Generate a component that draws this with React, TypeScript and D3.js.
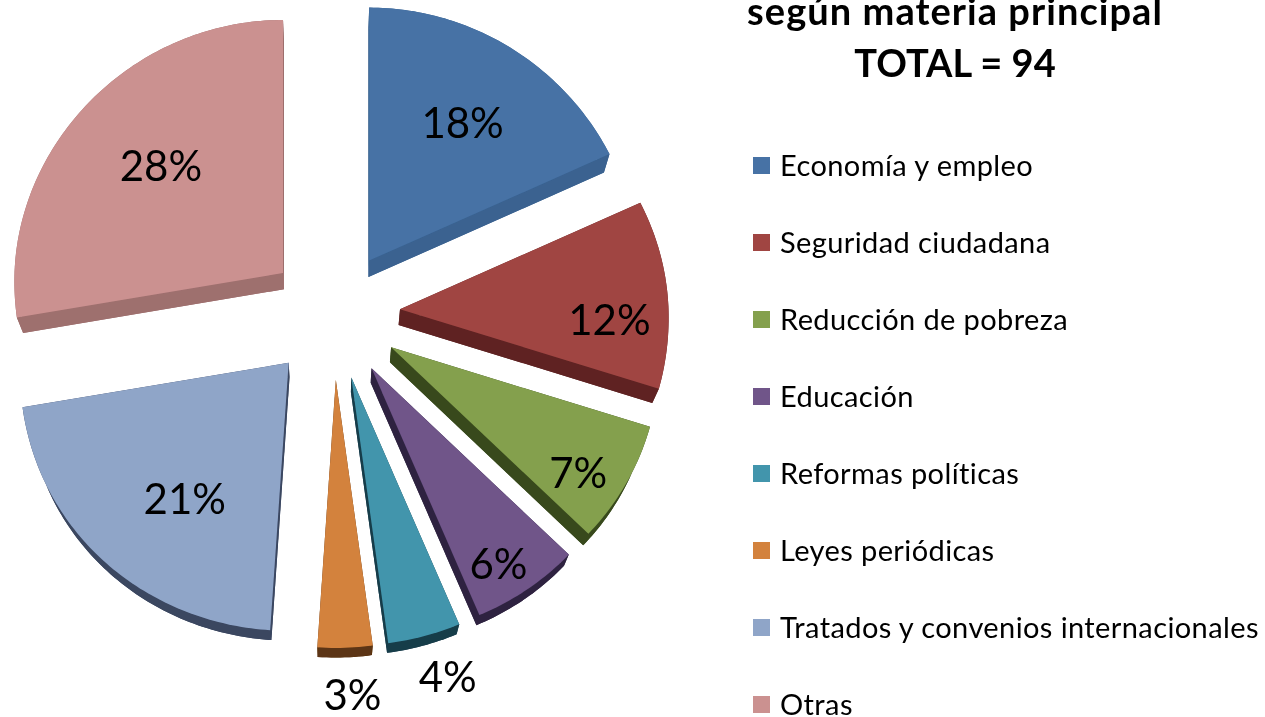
import React, { useEffect, useRef } from 'react';
import * as d3 from 'd3';

// counts per subject, total 94
const categories = [
  'Economía y empleo',
  'Seguridad ciudadana',
  'Reducción de pobreza',
  'Educación',
  'Reformas políticas',
  'Leyes periódicas',
  'Tratados y convenios internacionales',
  'Otras',
];
const counts = [17, 11, 7, 6, 4, 3, 20, 26];
const percentLabels = ['18%', '12%', '7%', '6%', '4%', '3%', '21%', '28%'];
const titleLines = ['según materia principal', 'TOTAL = 94'];

const faceColors = ['#4672a5', '#a04543', '#84a04e', '#6f5489', '#4295ac', '#d3823e', '#8fa5c8', '#cb9190'];
const wallColors = ['#3a6290', '#5f2423', '#384a1c', '#2f2440', '#183c4a', '#5c3412', '#3a4660', '#9e6f6e'];

// where each % label sits, measured from the tip of its slice
const labelRadius = [0.648, 0.78, 0.832, 0.865, 1.172, 1.18, 0.637, 0.625];
const labelAngle = [33.1, 93, 124.4, 147.7, 162.8, 177.1, 216.7, 312.5];
const titleSpacing = [1.05, 0];

const center = { x: 333.6, y: 313.5 };
const explode = 0.248;
const font = 'Lato, sans-serif';

export default function App() {
  const ref = useRef<SVGSVGElement>(null);

  useEffect(() => {
    const svg = d3.select(ref.current);
    svg.selectAll('*').remove();

    // the pie is tilted, so the far half is smaller than the near half
    const widthAt = d3.scaleLinear().domain([-1, 1]).range([260, 277]);
    const yScale = d3.scaleLinear().domain([-1, 0, 1]).range([-253, 0, 268]);

    const polar = (angle: number, r: number): [number, number] => {
      const ux = r * Math.sin(angle);
      const uy = -r * Math.cos(angle);
      return [ux * widthAt(uy), yScale(uy)];
    };
    // lower rim of the disc
    const sink = (p: [number, number]): [number, number] => [
      330 + (p[0] - 330) * 0.98,
      p[1] * 0.982 + 21.2,
    ];

    const line = d3.line();
    const slices = d3.pie<number>().sort(null).value((d) => d)(counts);

    const defs = svg.append('defs');
    defs.append('filter').attr('id', 'soft')
      .append('feGaussianBlur').attr('stdDeviation', 0.6);

    const root = svg.append('g').attr('filter', 'url(#soft)');

    slices.forEach((s, i) => {
      const mid = (s.startAngle + s.endAngle) / 2;
      const off = polar(mid, explode);
      const tip: [number, number] = [center.x + off[0], center.y + off[1]];

      const steps = Math.ceil(((s.endAngle - s.startAngle) * 180) / Math.PI);
      const rim = d3.range(steps + 1).map((k) => {
        const a = s.startAngle + ((s.endAngle - s.startAngle) * k) / steps;
        const p = polar(a, 1);
        return [tip[0] + p[0], tip[1] + p[1]] as [number, number];
      });
      const outline = [tip, ...rim];
      const last = rim[rim.length - 1];

      // separate paths, opposite windings would punch holes in one path
      const walls = [
        outline.map(sink),
        [...rim, ...rim.map(sink).reverse()],
        [tip, rim[0], sink(rim[0]), sink(tip)],
        [tip, last, sink(last), sink(tip)],
      ];
      walls.forEach((w) => {
        root.append('path').attr('d', line(w) + 'Z').attr('fill', wallColors[i]);
      });
      root.append('path').attr('d', line(outline) + 'Z').attr('fill', faceColors[i]);

      const lp = polar((labelAngle[i] * Math.PI) / 180, labelRadius[i]);
      root.append('text')
        .attr('x', tip[0] + lp[0])
        .attr('y', tip[1] + lp[1])
        .attr('dy', '0.35em')
        .attr('text-anchor', 'middle')
        .attr('font-family', font)
        .attr('font-size', 42)
        .attr('fill', '#000')
        .text(percentLabels[i]);
    });

    // title, first line is cut by the top of the picture
    root.selectAll('text.title')
      .data(titleLines)
      .enter()
      .append('text')
      .attr('class', 'title')
      .attr('x', 955)
      .attr('y', (d, i) => 25 + i * 52)
      .attr('text-anchor', 'middle')
      .attr('font-family', font)
      .attr('font-weight', 700)
      .attr('font-size', 38)
      .attr('letter-spacing', (d, i) => titleSpacing[i])
      .attr('fill', '#000')
      .text((d) => d);

    const legendY = d3.scalePoint<string>().domain(categories).range([165, 704]);
    const rows = root.selectAll('g.row')
      .data(categories)
      .enter()
      .append('g')
      .attr('class', 'row')
      .attr('transform', (d) => `translate(753,${legendY(d)})`);
    rows.append('rect')
      .attr('y', -8)
      .attr('width', 17)
      .attr('height', 17)
      .attr('fill', (d, i) => faceColors[i]);
    rows.append('text')
      .attr('x', 27)
      .attr('y', 1)
      .attr('dy', '0.35em')
      .attr('font-family', font)
      .attr('font-size', 29)
      .attr('letter-spacing', 0.4)
      .attr('fill', '#000')
      .text((d) => d);
  }, []);

  return (
    <svg
      ref={ref}
      width={1265}
      height={717}
      style={{ position: 'absolute', left: 0, top: 0, background: '#fff' }}
    />
  );
}
